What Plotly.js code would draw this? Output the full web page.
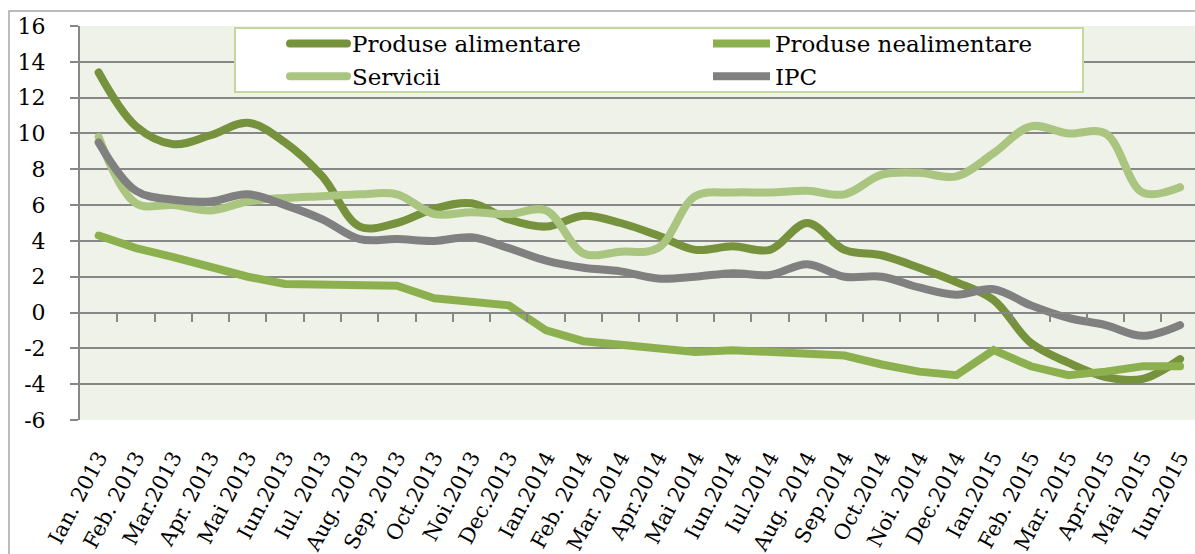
<!DOCTYPE html>
<html><head><meta charset="utf-8">
<script src="https://cdn.plot.ly/plotly-3.0.1.min.js"></script>
<style>
html,body{margin:0;padding:0;background:#fff;}
#chart{width:1195px;height:554px;}
.scatterlayer .js-line, .legend .js-line{stroke-linecap:round;}
</style></head><body><div id="chart"></div>
<script>
const months = ["Ian. 2013","Feb. 2013","Mar.2013","Apr. 2013","Mai 2013","Iun.2013","Iul. 2013","Aug. 2013","Sep. 2013","Oct.2013","Noi.2013","Dec.2013","Ian.2014","Feb. 2014","Mar. 2014","Apr.2014","Mai 2014","Iun.2014","Iul.2014","Aug. 2014","Sep.2014","Oct.2014","Noi. 2014","Dec.2014","Ian.2015","Feb. 2015","Mar. 2015","Apr.2015","Mai 2015","Iun.2015"];
const alimentare = [13.4,10.4,9.4,9.9,10.6,9.5,7.6,4.8,5.0,5.8,6.1,5.2,4.8,5.4,5.0,4.3,3.5,3.7,3.5,5.0,3.5,3.2,2.5,1.7,0.7,-1.7,-2.8,-3.6,-3.7,-2.6];
const nealimentare = [4.3,3.6,3.1,2.5,2.0,1.6,1.6,1.6,1.5,0.8,0.6,0.4,-1.0,-1.6,-1.8,-2.0,-2.2,-2.1,-2.2,-2.3,-2.4,-2.9,-3.3,-3.5,-2.1,-3.0,-3.5,-3.3,-3.0,-3.0];
const servicii = [9.8,6.1,6.0,5.7,6.2,6.4,6.5,6.6,6.6,5.5,5.6,5.5,5.7,3.3,3.4,3.6,6.5,6.7,6.7,6.8,6.6,7.7,7.8,7.6,8.9,10.4,10.0,10.0,6.7,7.0];
const ipc = [9.5,6.8,6.3,6.2,6.6,6.0,5.2,4.1,4.1,4.0,4.2,3.6,2.9,2.5,2.3,1.9,2.0,2.2,2.1,2.7,2.0,2.0,1.4,1.0,1.3,0.4,-0.3,-0.7,-1.3,-0.7];
const yTicks = [-6,-4,-2,0,2,4,6,8,10,12,14,16];
const yTickText = ["-6","-4","-2","0","2","4","6","8","10","12","14","16"];

const idx = months.map((m,i)=>i);
const boundaries = months.map((m,i)=>i+0.5);
const FONT = "DejaVu Serif, serif";
const GRID = "#878787";

function tr(name, y, color, shape, leg){
  return {x: idx, y: y, name: name, type:'scatter', mode:'lines', legend: leg,
    line:{color: color, width: 8, shape: shape, smoothing: 1}, hoverinfo:'skip'};
}
const data = [
  tr("Produse alimentare", alimentare, "#76923C", "spline", "legend"),
  tr("Produse nealimentare", nealimentare, "#8DB04F", "linear", "legend2"),
  tr("Servicii", servicii, "#A9C57F", "spline", "legend"),
  tr("IPC", ipc, "#808080", "spline", "legend2"),
  {x:[0], y:[null], xaxis:'x2', showlegend:false, hoverinfo:'skip', mode:'lines'}
];
const legBase = {orientation:'v', yanchor:'top', xanchor:'left', y:(420-22)/394,
  bgcolor:'rgba(0,0,0,0)', borderwidth:0, font:{family:FONT, size:23, color:'#000'},
  itemwidth:57, traceorder:'normal', tracegroupgap:0};
const layout = {
  width:1195, height:554,
  margin:{l:80, r:0, t:26, b:134},
  paper_bgcolor:'#ffffff', plot_bgcolor:'#EFF2E9',
  font:{family:FONT, color:'#000', size:21},
  showlegend:true,
  legend: Object.assign({}, legBase, {x:(285-80)/1115}),
  legend2: Object.assign({}, legBase, {x:(708-80)/1115}),
  xaxis:{type:'linear', range:[-0.5,29.4], tickmode:'array', tickvals: idx, ticktext: months,
    tickangle:-62, ticks:'', showgrid:false, zeroline:false, showline:false,
    tickfont:{family:FONT, size:21}, ticklabelstandoff:20, ticklabeloverflow:'allow', fixedrange:true},
  xaxis2:{type:'linear', range:[-0.5,29.4], overlaying:'x', anchor:'free', position: 6/22,
    tickmode:'array', tickvals: boundaries, ticks:'outside', ticklen:8, tickwidth:2, tickcolor:GRID,
    showticklabels:false, showgrid:false, zeroline:false, showline:true, linecolor:GRID, linewidth:2},
  yaxis:{range:[-6,16], tickmode:'array', tickvals:yTicks, ticktext:yTickText, ticks:'outside', ticklen:8, tickwidth:2,
    tickcolor:GRID, showline:true, linecolor:GRID, linewidth:2, gridcolor:GRID, gridwidth:2,
    zeroline:false, tickfont:{family:FONT, size:22}, ticklabelstandoff:20, fixedrange:true},
  shapes:[
    {type:'rect', xref:'paper', yref:'paper', x0:-71/1115, x1:1.2, y0:-0.6, y1:(420-11)/394,
      line:{color:'#A6A6A6', width:1.5}, fillcolor:'rgba(0,0,0,0)', layer:'below'},
    {type:'rect', xref:'paper', yref:'paper', x0:(235-80)/1115, x1:(1083-80)/1115, y0:(420-92)/394, y1:(420-28)/394,
      line:{color:'#C4D79F', width:2}, fillcolor:'#ffffff', layer:'above'}
  ]
};
Plotly.newPlot('chart', data, layout, {staticPlot:true});
</script></body></html>
